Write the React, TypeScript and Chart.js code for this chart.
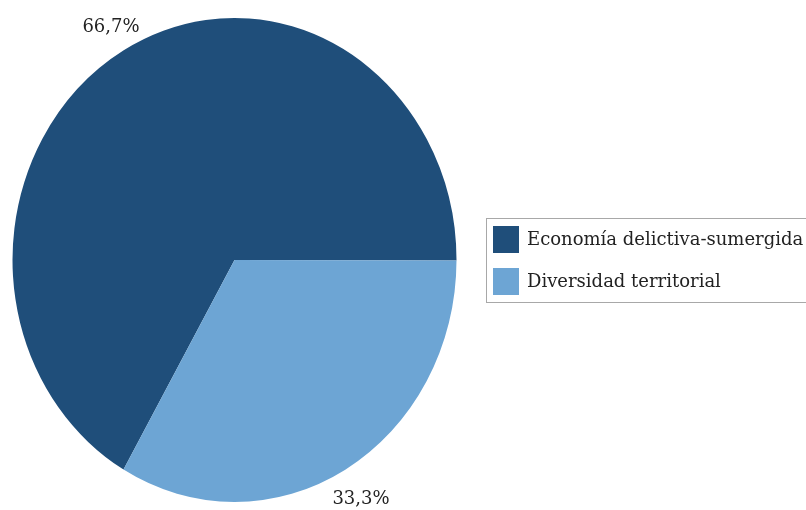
import React, { useEffect, useRef } from "react";
import { Chart, registerables } from "chart.js";

Chart.register(...registerables);

const categories = ["Economía delictiva-sumergida", "Diversidad territorial"];
const values = [66.7, 33.3];
const valueLabels = ["66,7%", "33,3%"];
const colors = ["#1F4E7A", "#6DA5D4"];

const FONT = "'DejaVu Serif', serif";

const ellipsePlugin = {
  id: "ellipse",
  beforeDatasetsDraw(chart: any) {
    const meta = chart.getDatasetMeta(0);
    const arc = meta.data[0];
    const cx = arc.x, cy = arc.y, r = arc.outerRadius;
    const ctx = chart.ctx;
    ctx.save();
    ctx.translate(cx, cy);
    ctx.scale(1, 242 / r);
    ctx.translate(-cx, -cy);
  },
  afterDatasetsDraw(chart: any) {
    chart.ctx.restore();
  },
  afterDraw(chart: any) {
    const ctx = chart.ctx;
    ctx.save();
    ctx.fillStyle = "#222";
    ctx.font = `18px ${FONT}`;
    ctx.textAlign = "center";
    ctx.textBaseline = "middle";
    ctx.fillText(valueLabels[0], 111, 27);
    ctx.fillText(valueLabels[1], 361, 499);
    // legend box
    ctx.strokeStyle = "#A8A8A8";
    ctx.lineWidth = 1;
    ctx.strokeRect(486.5, 218.5, 330, 84);
    ctx.textAlign = "left";
    const rows = [239.5, 281.5];
    categories.forEach((c, i) => {
      ctx.fillStyle = colors[i];
      ctx.fillRect(493, rows[i] - 13.5, 26, 27);
      ctx.fillStyle = "#222";
      ctx.fillText(c, 527, rows[i] + 1);
    });
    ctx.restore();
  },
};

export default function App() {
  const ref = useRef<HTMLCanvasElement>(null);
  useEffect(() => {
    if (!ref.current) return;
    const chart = new Chart(ref.current, {
      type: "pie",
      data: {
        labels: categories,
        datasets: [
          {
            data: values,
            backgroundColor: colors,
            borderWidth: 0,
            clip: false,
          } as any,
        ],
      },
      options: {
        animation: false,
        responsive: false,
        rotation: -150,
        layout: { padding: { left: 12, right: 349, top: 38, bottom: 28 } },
        plugins: {
          legend: { display: false },
          tooltip: { enabled: false },
        },
      },
      plugins: [ellipsePlugin],
    });
    return () => chart.destroy();
  }, []);
  return (
    <div style={{ position: "absolute", left: 0, top: 0, width: 806, height: 510, background: "#fff" }}>
      <canvas ref={ref} width={806} height={510} style={{ width: 806, height: 510 }} />
    </div>
  );
}
